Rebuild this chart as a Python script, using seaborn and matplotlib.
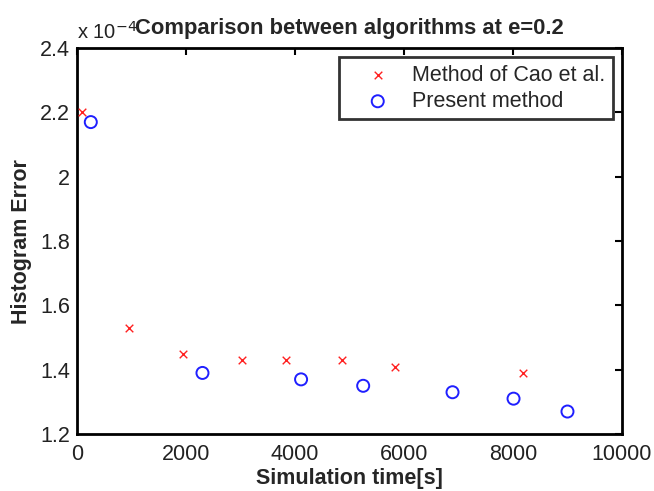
import matplotlib
matplotlib.use("Agg")
import matplotlib.pyplot as plt
import seaborn as sns
import pandas as pd
from matplotlib.ticker import FuncFormatter

# Data (histogram error in units of 1e-4)
cao_time = [80, 960, 1940, 3030, 3830, 4860, 5840, 8180]
cao_err = [2.20, 1.53, 1.45, 1.43, 1.43, 1.43, 1.41, 1.39]
present_time = [250, 2300, 4110, 5250, 6890, 8010, 9000]
present_err = [2.17, 1.39, 1.37, 1.35, 1.33, 1.31, 1.27]

series_names = ["Method of Cao et al.", "Present method"]
x_ticks = [0, 2000, 4000, 6000, 8000, 10000]
y_ticks = [1.2, 1.4, 1.6, 1.8, 2.0, 2.2, 2.4]

df_cao = pd.DataFrame({"t": cao_time, "err": cao_err})
df_pre = pd.DataFrame({"t": present_time, "err": present_err})

sns.set_style("white")
plt.rcParams["font.family"] = ["Liberation Sans", "DejaVu Sans"]

fig = plt.figure(figsize=(6.54, 4.91), dpi=100)
ax = fig.add_axes([0.118, 0.116, 0.833, 0.786])

sns.scatterplot(data=df_cao, x="t", y="err", ax=ax, marker="x", color="#ff2020",
                s=30, linewidth=1.0, label=series_names[0], zorder=3)
sns.scatterplot(data=df_pre, x="t", y="err", ax=ax, marker="o", facecolor="none",
                edgecolor="#1f1fff", s=75, linewidth=1.4, label=series_names[1], zorder=3)

ax.set_xlim(0, 10000)
ax.set_ylim(1.2, 2.4)
ax.set_xticks(x_ticks)
ax.set_yticks(y_ticks)
ax.yaxis.set_major_formatter(FuncFormatter(lambda v, p: f"{v:g}"))
ax.tick_params(direction="in", length=5, width=1.5, top=True, right=True,
               labelsize=15.5, colors="black", labelcolor="#222222")
ax.tick_params(axis="x", pad=7)
ax.tick_params(axis="y", pad=5)
for sp in ax.spines.values():
    sp.set_color("black")
    sp.set_linewidth(2.0)

ax.set_xlabel("Simulation time[s]", fontsize=15.5, fontweight="bold", labelpad=2)
ax.set_ylabel("Histogram Error", fontsize=15.5, fontweight="bold", labelpad=6)
ax.set_title("Comparison between algorithms at e=0.2", fontsize=15.8,
             fontweight="bold", pad=10, x=0.5)
ax.text(0.0, 1.015, "x 10$^{-4}$", transform=ax.transAxes, fontsize=14.5,
        ha="left", va="bottom", color="#222222")

leg = ax.legend(loc="upper right", bbox_to_anchor=(0.9835, 0.977), fontsize=15.5,
                frameon=True, fancybox=False, borderpad=0.35, handletextpad=0.15,
                labelspacing=0.25, handlelength=2.9, borderaxespad=0)
leg.get_frame().set_edgecolor("black")
leg.get_frame().set_linewidth(2.0)

fig.savefig("out.png", dpi=100, facecolor="white")
